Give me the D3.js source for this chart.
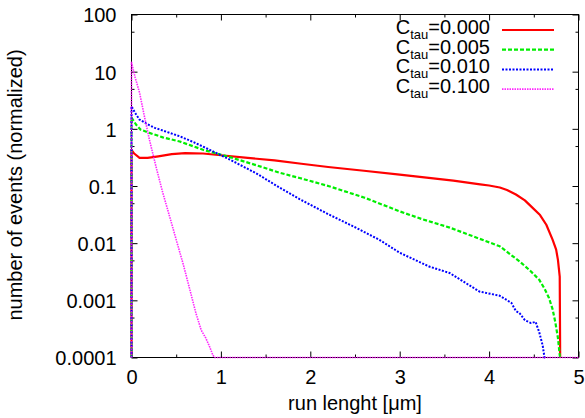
<!DOCTYPE html>
<html>
<head>
<meta charset="utf-8">
<script src="https://cdn.jsdelivr.net/npm/d3@7"></script>
<style>
	body { margin: 0; background: #fff; }
	svg { display: block; background: #fff; font-family: "Liberation Sans", Arial, Helvetica, sans-serif; }
	.axis text { font-size: 20px; fill: #000; }
	.axis line { stroke: #000; }
	.legend text { font-size: 20px; fill: #000; }
</style>
</head>
<body>
<svg id="chart" width="585" height="418"></svg>
<script>
// run length histograms (normalized), one per C_tau value
const xTau000 = [0, 0, 0.03, 0.09, 0.18, 0.3, 0.45, 0.6, 0.8, 1.0, 1.3, 1.6, 1.9, 2.2, 2.6, 3.0, 3.3, 3.6, 3.9, 4.0, 4.12, 4.2, 4.3, 4.4, 4.49, 4.57, 4.64, 4.71, 4.75, 4.77, 4.79, 4.795];
const yTau000 = [0, 0.43, 0.37, 0.31, 0.31, 0.33, 0.36, 0.375, 0.37, 0.345, 0.31, 0.28, 0.245, 0.215, 0.185, 0.158, 0.14, 0.124, 0.107, 0.102, 0.094, 0.085, 0.071, 0.056, 0.041, 0.031, 0.021, 0.0115, 0.0077, 0.0051, 0.0026, 0];

const xTau005 = [0, 0, 0.05, 0.1, 0.2, 0.35, 0.54, 0.8, 1.1, 1.4, 1.66, 1.88, 2.21, 2.6, 3.0, 3.26, 3.56, 3.89, 4.12, 4.34, 4.46, 4.56, 4.62, 4.67, 4.71, 4.74, 4.77, 4.79, 4.795];
const yTau005 = [0, 1.58, 1.19, 0.97, 0.85, 0.71, 0.6, 0.43, 0.32, 0.23, 0.17, 0.138, 0.099, 0.063, 0.036, 0.026, 0.0187, 0.012, 0.0088, 0.0048, 0.0033, 0.0023, 0.0016, 0.0011, 0.0007, 0.00042, 0.00022, 0.00011, 0];

const xTau010 = [0, 0, 0.04, 0.09, 0.18, 0.26, 0.4, 0.54, 0.7, 0.87, 1.1, 1.4, 1.66, 1.88, 2.21, 2.5, 2.77, 3.0, 3.33, 3.56, 3.89, 4.12, 4.25, 4.3, 4.34, 4.4, 4.47, 4.52, 4.56, 4.6, 4.62, 4.625];
const yTau010 = [0, 2.48, 1.9, 1.45, 1.2, 1.04, 0.88, 0.74, 0.58, 0.433, 0.29, 0.165, 0.093, 0.059, 0.0316, 0.019, 0.0115, 0.0068, 0.0039, 0.003, 0.00143, 0.0012, 0.0009, 0.00065, 0.0006, 0.00045, 0.0004, 0.00042, 0.00028, 0.00016, 0.0001, 0];

const xTau100 = [0, 0, 0.04, 0.09, 0.15, 0.2, 0.28, 0.35, 0.43, 0.5, 0.58, 0.65, 0.72, 0.78, 0.83, 0.87, 0.91, 0.93, 5];
const yTau100 = [0, 14.6, 8, 4.3, 1.5, 0.65, 0.2, 0.076, 0.028, 0.0115, 0.0042, 0.0016, 0.0006, 0.0003, 0.00022, 0.00016, 0.00011, 0, 0];

const tauLabels = ['0.000', '0.005', '0.010', '0.100'];

const xTicks = [0, 1, 2, 3, 4, 5];
const xTickLabels = ['0', '1', '2', '3', '4', '5'];
const xMinorTicks = [0.5, 1.5, 2.5, 3.5, 4.5];
const yTicks = [0.0001, 0.001, 0.01, 0.1, 1, 10, 100];
const yTickLabels = ['0.0001', '0.001', '0.01', '0.1', '1', '10', '100'];
const yMinorTicks = [0.0005, 0.005, 0.05, 0.5, 5, 50];

const styles = [
	{ color: '#ff0000', width: 2.2, dash: null, opacity: 1 },
	{ color: '#00ee00', width: 2.2, dash: '4,2', opacity: 1 },
	{ color: '#0000ff', width: 2, dash: '2,1.5', opacity: 1 },
	{ color: '#ff00ff', width: 1.6, dash: '1.5,1', opacity: 0.85 }
];

const draw = (target, d3 = window.d3) => {
	const margin = { top: 14.5, right: 6.5, bottom: 60.5, left: 131.5 };
	const width = 585 - margin.left - margin.right;
	const height = 418 - margin.top - margin.bottom;
	const yMin = 0.0001;

	const x = d3.scaleLinear().domain([0, 5]).range([0, width]);
	const y = d3.scaleLog().domain([yMin, 100]).range([height, 0]);

	const series = [
		[xTau000, yTau000],
		[xTau005, yTau005],
		[xTau010, yTau010],
		[xTau100, yTau100]
	].map(([xs, ys]) => xs.map((d, i) => [d, ys[i]]));

	const g = target.append('g')
		.attr('transform', `translate(${margin.left},${margin.top})`);

	g.append('clipPath')
		.attr('id', 'plot-clip')
		.append('rect')
		.attr('x', -1.5)
		.attr('y', -1.5)
		.attr('width', width + 3)
		.attr('height', height + 3);

	// inward ticks on all four sides, like gnuplot
	const addAxis = (axis, ticks, size, labels, transform) => {
		const a = g.append('g')
			.attr('class', 'axis')
			.attr('transform', transform)
			.call(axis.tickValues(ticks).tickSize(-size).tickFormat((d, i) => labels ? labels[i] : ''));
		a.select('.domain').remove();
		return a;
	};

	addAxis(d3.axisBottom(x).tickPadding(12), xTicks, 6, xTickLabels, `translate(0,${height})`);
	addAxis(d3.axisBottom(x), xMinorTicks, 3, null, `translate(0,${height})`);
	addAxis(d3.axisTop(x), xTicks, 6, null, 'translate(0,0)');
	addAxis(d3.axisTop(x), xMinorTicks, 3, null, 'translate(0,0)');

	addAxis(d3.axisLeft(y).tickPadding(15), yTicks, 6, yTickLabels, 'translate(0,0)')
		.selectAll('text').attr('dy', '0.37em');
	addAxis(d3.axisLeft(y), yMinorTicks, 3, null, 'translate(0,0)');
	addAxis(d3.axisRight(y), yTicks, 6, null, `translate(${width},0)`);
	addAxis(d3.axisRight(y), yMinorTicks, 3, null, `translate(${width},0)`);

	g.append('rect')
		.attr('width', width)
		.attr('height', height)
		.attr('fill', 'none')
		.attr('stroke', '#000')
		.attr('stroke-width', 1);

	const line = d3.line()
		.x(d => x(d[0]))
		.y(d => y(Math.max(d[1], yMin)));

	g.append('g')
		.attr('clip-path', 'url(#plot-clip)')
		.selectAll('path')
		.data(series)
		.enter().append('path')
		.attr('d', line)
		.attr('fill', 'none')
		.attr('stroke', (d, i) => styles[i].color)
		.attr('stroke-width', (d, i) => styles[i].width)
		.attr('stroke-dasharray', (d, i) => styles[i].dash)
		.attr('stroke-opacity', (d, i) => styles[i].opacity)
		.attr('stroke-linejoin', 'round');

	// legend, top right
	const legend = target.append('g').attr('class', 'legend');
	const rows = legend.selectAll('g')
		.data(tauLabels)
		.enter().append('g')
		.attr('transform', (d, i) => `translate(0,${30 + i * 19.7})`);

	const label = rows.append('text')
		.attr('x', 490)
		.attr('y', 4)
		.attr('text-anchor', 'end');
	label.append('tspan').text('C');
	label.append('tspan').attr('font-size', 13).attr('dy', 5).text('tau');
	label.append('tspan').attr('dy', -5).text(d => `=${d}`);

	rows.append('line')
		.attr('x1', 502)
		.attr('x2', 554)
		.attr('stroke', (d, i) => styles[i].color)
		.attr('stroke-width', (d, i) => styles[i].width)
		.attr('stroke-dasharray', (d, i) => styles[i].dash)
		.attr('stroke-opacity', (d, i) => styles[i].opacity);

	target.append('text')
		.attr('x', margin.left + width / 2)
		.attr('y', 410)
		.attr('text-anchor', 'middle')
		.attr('font-size', 20)
		.text('run lenght [μm]');

	target.append('text')
		.attr('transform', 'translate(22,185) rotate(-90)')
		.attr('text-anchor', 'middle')
		.attr('font-size', 20)
		.text('number of events (normalized)');
};

draw(d3.select('#chart'));
</script>
</body>
</html>
